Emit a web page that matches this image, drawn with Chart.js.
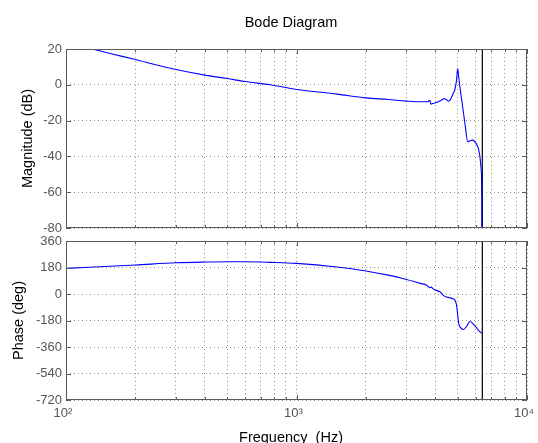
<!DOCTYPE html>
<html>
<head>
<meta charset="utf-8">
<script src="https://cdn.jsdelivr.net/npm/chart.js@4.4.1/dist/chart.umd.min.js"></script>
<style>
html, body { margin: 0; padding: 0; background: #ffffff; }
#wrap { position: relative; width: 538px; height: 443px; overflow: hidden; }
#wrap canvas { position: absolute; left: 0; top: 0; }
</style>
</head>
<body>
<div id="wrap">
  <canvas id="mag" width="538" height="443"></canvas>
  <canvas id="pha" width="538" height="443"></canvas>
</div>
<script>
// ---- data ----
const magFreq = [100, 130, 160, 200, 250, 300, 400, 500, 600, 770, 1000, 1500, 2000, 2500, 3000, 3436, 3700, 3790, 3829, 3900, 4050, 4190, 4375, 4480, 4560, 4634, 4786, 4880, 4950, 5000, 5030, 5080, 5150, 5210, 5380, 5530, 5650, 5810, 6010, 6150, 6250, 6330, 6360, 6380];
const magDb   = [23.6, 20, 17.1, 14.1, 10.9, 8.5, 5.4, 3.5, 1.8, 0, -2.6, -5.2, -7.3, -8.2, -9.1, -9.5, -9.5, -8.6, -10.8, -10.5, -9.9, -9.1, -7.7, -8.4, -9.1, -8.6, -4.9, -2.0, 3.0, 9.1, 7.0, 2.0, -4.0, -8.6, -21.6, -31.8, -31.3, -30.9, -32.7, -35.5, -40.2, -47.6, -60, -200];

const phaseFreq = [100, 200, 300, 400, 500, 600, 770, 1000, 1500, 2000, 2500, 2811, 3000, 3436, 3670, 3793, 3832, 3928, 4190, 4400, 4634, 4800, 4880, 4940, 4970, 5010, 5050, 5130, 5300, 5450, 5650, 5810, 6050, 6150, 6360];
const phaseDeg  = [174, 197, 212, 217, 219, 219, 215, 208, 183, 156, 128, 110, 99, 72, 60, 42, 47, 33, 15, -16, -26, -35, -45, -70, -100, -150, -195, -225, -241, -224, -187, -200, -230, -246, -268];

const nyquistHz = 6400;

const xMin = 100, xMax = 10000;
const xGridValues = [100, 200, 300, 400, 500, 600, 700, 800, 900, 1000, 2000, 3000, 4000, 5000, 6000, 7000, 8000, 9000, 10000];
const xTickLabels = { 100: '10\u00B2', 1000: '10\u00B3', 10000: '10\u2074' };

const magTicks = [20, 0, -20, -40, -60, -80];
const phaseTicks = [360, 180, 0, -180, -360, -540, -720];

const titleText = 'Bode Diagram';
const xTitleText = 'Frequency  (Hz)';
const magTitleText = 'Magnitude (dB)';
const phaseTitleText = 'Phase (deg)';

// ---- styling ----
const FONT = '"Liberation Sans", Arial, Helvetica, sans-serif';
const TICK_COLOR = '#555555';
const FRAME_COLOR = '#5a5a5a';
const GRID_COLOR = 'rgba(0,0,0,0.42)';
const LINE_BLUE = '#0000ff';

Chart.defaults.font.family = FONT;
Chart.defaults.animation = false;

function pts(xs, ys) { return xs.map((x, i) => ({ x: x, y: ys[i] })); }

const frameTicks = {
  id: 'frameTicks',
  afterDatasetsDraw(chart) {
    const { ctx, chartArea: a, scales } = chart;
    const xs = scales.x, ys = scales.y;
    ctx.save();
    ctx.strokeStyle = FRAME_COLOR;
    ctx.lineWidth = 1;
    ctx.beginPath();
    xs.ticks.forEach(t => {
      const px = Math.round(xs.getPixelForValue(t.value)) + 0.5;
      const len = xTickLabels[t.value] ? 5 : 3;
      ctx.moveTo(px, a.top); ctx.lineTo(px, a.top + len);
      ctx.moveTo(px, a.bottom); ctx.lineTo(px, a.bottom - len);
    });
    ys.ticks.forEach(t => {
      const py = Math.round(ys.getPixelForValue(t.value)) + 0.5;
      ctx.moveTo(a.left, py); ctx.lineTo(a.left + 5, py);
      ctx.moveTo(a.right, py); ctx.lineTo(a.right - 5, py);
    });
    ctx.stroke();
    ctx.strokeRect(Math.round(a.left) + 0.5, Math.round(a.top) + 0.5,
                   Math.round(a.right) - Math.round(a.left) - 1, Math.round(a.bottom) - Math.round(a.top) - 1);
    ctx.restore();
  }
};

const centeredText = {
  id: 'centeredText',
  afterDraw(chart, args, opts) {
    if (!opts || !opts.text) return;
    const { ctx, chartArea: a } = chart;
    ctx.save();
    ctx.fillStyle = '#000000';
    ctx.font = opts.size + 'px ' + FONT;
    ctx.textAlign = 'center';
    ctx.textBaseline = 'alphabetic';
    ctx.fillText(opts.text, (a.left + a.right) / 2 + opts.dx, opts.baseline);
    ctx.restore();
  }
};

function xScale(showLabels) {
  return {
    type: 'logarithmic',
    min: xMin, max: xMax,
    afterBuildTicks: s => { s.ticks = xGridValues.map(v => ({ value: v, major: !!xTickLabels[v] })); },
    afterFit: s => { s.height = showLabels ? 43 : 0; s.paddingLeft = 0; s.paddingRight = 0; },
    grid: { color: GRID_COLOR, lineWidth: 1, drawTicks: false },
    border: { display: false, dash: [1, 3] },
    ticks: {
      display: showLabels,
      autoSkip: false, maxRotation: 0, minRotation: 0,
      padding: 6, labelOffset: -3,
      color: TICK_COLOR, font: { size: 13 },
      callback: v => xTickLabels[v] || ''
    }
  };
}

function yScale(min, max, tickValues, title, titlePad) {
  return {
    type: 'linear',
    min: min, max: max,
    afterBuildTicks: s => { s.ticks = tickValues.map(v => ({ value: v })); },
    afterFit: s => { s.width = 66; s.paddingTop = 0; s.paddingBottom = 0; },
    grid: { color: GRID_COLOR, lineWidth: 1, drawTicks: false },
    border: { display: false, dash: [1, 3] },
    ticks: { padding: 4, color: TICK_COLOR, font: { size: 13 } },
    title: { display: true, text: title, color: '#000000', font: { size: 14.5 }, padding: { top: titlePad, bottom: 0 } }
  };
}

const lineStyle = { borderColor: LINE_BLUE, borderWidth: 1.1, pointRadius: 0, cubicInterpolationMode: 'monotone' };

new Chart(document.getElementById('mag'), {
  type: 'line',
  data: {
    datasets: [
      Object.assign({ data: pts(magFreq, magDb) }, lineStyle),
      { data: pts([nyquistHz, nyquistHz], [magTicks[magTicks.length - 1], magTicks[0]]), borderColor: '#000000', borderWidth: 1.2, pointRadius: 0 }
    ]
  },
  options: {
    responsive: false,
    layout: { padding: { left: 0, right: 11, top: 49, bottom: 215 } },
    plugins: { legend: { display: false }, tooltip: { enabled: false },
      centeredText: { text: titleText, size: 14.5, dx: -5.5, baseline: 27 } },
    scales: {
      x: xScale(false),
      y: yScale(magTicks[magTicks.length - 1], magTicks[0], magTicks, magTitleText, 19)
    }
  },
  plugins: [frameTicks, centeredText]
});

new Chart(document.getElementById('pha'), {
  type: 'line',
  data: {
    datasets: [
      Object.assign({ data: pts(phaseFreq, phaseDeg) }, lineStyle),
      { data: pts([nyquistHz, nyquistHz], [phaseTicks[phaseTicks.length - 1], phaseTicks[0]]), borderColor: '#000000', borderWidth: 1.2, pointRadius: 0 }
    ]
  },
  options: {
    responsive: false,
    layout: { padding: { left: 0, right: 11, top: 241, bottom: 0 } },
    plugins: { legend: { display: false }, tooltip: { enabled: false },
      centeredText: { text: xTitleText, size: 14.5, dx: -5.5, baseline: 441.5 } },
    scales: {
      x: xScale(true),
      y: yScale(phaseTicks[phaseTicks.length - 1], phaseTicks[0], phaseTicks, phaseTitleText, 10)
    }
  },
  plugins: [frameTicks, centeredText]
});
</script>
</body>
</html>
